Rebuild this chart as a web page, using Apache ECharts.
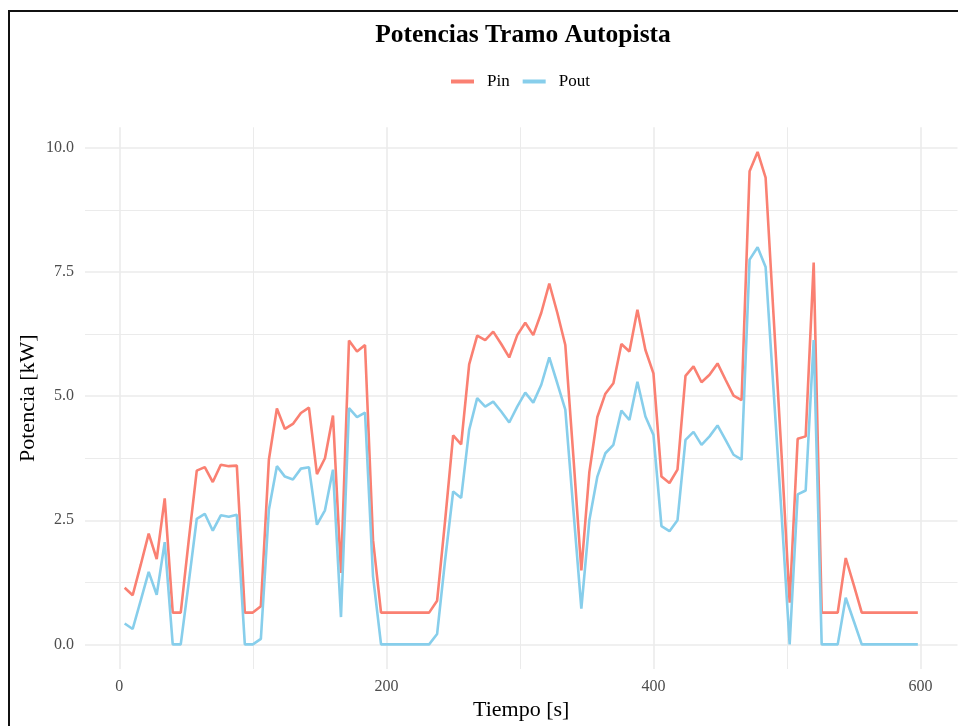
<!DOCTYPE html>
<html lang="es">

<head>
    <meta charset="UTF-8">
    <meta name="viewport" content="width=device-width, initial-scale=1.0">
    <script src="https://cdn.jsdelivr.net/npm/echarts@6/dist/echarts.min.js"></script>
    <title>Potencias Tramo Autopista</title>
    <style>
        html, body { margin: 0; padding: 0; background: #fff; overflow: hidden; }
        #main { position: absolute; left: 0; top: 0; width: 958px; height: 726px; }
        #frame { position: absolute; left: 8px; top: 10px; width: 2000px; height: 2000px;
                 border: 2px solid #111; pointer-events: none; }
    </style>
</head>

<body>
    <div id="main"></div>
    <div id="frame"></div>

    <script type="text/javascript">
        // tiempo [s]
        let tiempo = [4, 10, 16, 22, 28, 34, 40, 46, 52, 58, 64, 70, 76, 82, 88, 94, 100, 106, 112, 118,
            124, 130, 136, 142, 148, 154, 160, 166, 172, 178, 184, 190, 196, 202, 208, 214, 220, 226, 232, 238,
            244, 250, 256, 262, 268, 274, 280, 286, 292, 298, 304, 310, 316, 322, 328, 334, 340, 346, 352, 358,
            364, 370, 376, 382, 388, 394, 400, 406, 412, 418, 424, 430, 436, 442, 448, 454, 460, 466, 472, 478,
            484, 490, 496, 502, 508, 514, 520, 526, 532, 538, 544, 550, 556, 562, 568, 574, 580, 586, 592, 598];
        // potencia de entrada [kW]
        let pin = [1.14, 0.99, 1.6, 2.23, 1.72, 2.94, 0.64, 0.64, 2.1, 3.50, 3.57, 3.27, 3.62, 3.59, 3.60, 0.64, 0.64, 0.77, 3.72, 4.75,
            4.34, 4.44, 4.66, 4.77, 3.43, 3.75, 4.61, 1.44, 6.12, 5.90, 6.03, 2.1, 0.64, 0.64, 0.64, 0.64, 0.64, 0.64, 0.64, 0.88,
            2.5, 4.21, 4.03, 5.64, 6.22, 6.13, 6.30, 6.05, 5.78, 6.23, 6.48, 6.23, 6.68, 7.27, 6.68, 6.03, 3.8, 1.49, 3.47, 4.58,
            5.05, 5.26, 6.05, 5.90, 6.74, 5.93, 5.46, 3.38, 3.25, 3.52, 5.41, 5.60, 5.28, 5.43, 5.66, 5.33, 5.01, 4.92, 9.53, 9.92,
            9.40, 6.6, 3.8, 0.84, 4.14, 4.19, 7.69, 0.64, 0.64, 0.64, 1.74, 1.2, 0.64, 0.64, 0.64, 0.64, 0.64, 0.64, 0.64, 0.64];
        // potencia de salida [kW]
        let pout = [0.42, 0.31, 0.88, 1.46, 1.00, 2.06, 0, 0, 1.25, 2.53, 2.63, 2.29, 2.60, 2.57, 2.61, 0, 0, 0.11, 2.71, 3.59,
            3.38, 3.32, 3.54, 3.57, 2.41, 2.70, 3.52, 0.55, 4.76, 4.58, 4.67, 1.37, 0, 0, 0, 0, 0, 0, 0, 0.21,
            1.7, 3.08, 2.95, 4.32, 4.96, 4.79, 4.89, 4.69, 4.47, 4.79, 5.07, 4.87, 5.23, 5.78, 5.26, 4.73, 2.72, 0.72, 2.50, 3.38,
            3.85, 4.02, 4.71, 4.52, 5.29, 4.59, 4.22, 2.38, 2.28, 2.50, 4.12, 4.28, 4.02, 4.19, 4.41, 4.12, 3.82, 3.72, 7.75, 8.00,
            7.60, 5.1, 2.6, 0, 3.02, 3.10, 6.13, 0, 0, 0, 0.94, 0.47, 0, 0, 0, 0, 0, 0, 0, 0];

        let xMajor = [0, 200, 400, 600];
        let xMinor = [100, 300, 500];
        let yMajor = [0, 2.5, 5, 7.5, 10];
        let yMinor = [1.25, 3.75, 6.25, 8.75];

        let font = 'Liberation Serif';
        let gridColor = '#ebebeb';
        let xRange = [-25.7, 627.7];
        let yRange = [-0.496, 10.416];

        let myChart = echarts.init(document.getElementById('main'));

        function axisBase(range) {
            return {
                type: 'value',
                min: range[0],
                max: range[1],
                axisLine: { show: false, onZero: false },
                axisTick: { show: false }
            };
        }

        let xAxes = [
            Object.assign(axisBase(xRange), {
                name: 'Tiempo [s]',
                nameLocation: 'middle',
                nameGap: 30,
                nameMoveOverlap: false,
                nameTextStyle: { fontFamily: font, fontSize: 22, color: '#000' },
                axisTick: { show: false, customValues: xMajor },
                axisLabel: { customValues: xMajor, margin: 10, fontFamily: font, fontSize: 16, color: '#4d4d4d' },
                splitLine: { show: true, lineStyle: { color: gridColor, width: 1.6 } }
            }),
            Object.assign(axisBase(xRange), {
                axisTick: { show: false, customValues: xMinor },
                axisLabel: { show: false },
                splitLine: { show: true, lineStyle: { color: gridColor, width: 1 } }
            })
        ];

        let yAxes = [
            Object.assign(axisBase(yRange), {
                name: 'Potencia [kW]',
                nameLocation: 'middle',
                nameGap: 46,
                nameMoveOverlap: false,
                nameTextStyle: { fontFamily: font, fontSize: 22, color: '#000' },
                axisTick: { show: false, customValues: yMajor },
                axisLabel: {
                    customValues: yMajor, margin: 11, fontFamily: font, fontSize: 16, color: '#4d4d4d',
                    formatter: function (v) { return v.toFixed(1); }
                },
                splitLine: { show: true, lineStyle: { color: gridColor, width: 1.6 } }
            }),
            Object.assign(axisBase(yRange), {
                axisTick: { show: false, customValues: yMinor },
                axisLabel: { show: false },
                splitLine: { show: true, lineStyle: { color: gridColor, width: 1 } }
            })
        ];

        let option = {
            backgroundColor: '#fff',
            animation: false,
            color: ['#fa8072', '#87ceeb'],
            title: {
                text: 'Potencias Tramo Autopista',
                left: 518,
                top: 17,
                textAlign: 'center',
                textStyle: { fontFamily: font, fontSize: 25.5, fontWeight: 'bold', color: '#000' }
            },
            legend: {
                left: 446,
                top: 67,
                icon: 'rect',
                itemWidth: 23,
                itemHeight: 4,
                itemGap: 13,
                textStyle: { fontFamily: font, fontSize: 17, lineHeight: 19, color: '#000', padding: [0, 0, 0, 8] },
                data: ['Pin', 'Pout']
            },
            grid: { left: 85, top: 127.3, width: 872.5, height: 542.4 },
            xAxis: xAxes,
            yAxis: yAxes,
            series: [{
                name: 'Pin',
                type: 'line',
                symbol: 'none',
                lineStyle: { width: 2.6 },
                data: tiempo.map(function (t, i) { return [t, pin[i]]; })
            }, {
                name: 'Pout',
                type: 'line',
                symbol: 'none',
                lineStyle: { width: 2.6 },
                data: tiempo.map(function (t, i) { return [t, pout[i]]; })
            }]
        };

        myChart.setOption(option);
    </script>
</body>

</html>
